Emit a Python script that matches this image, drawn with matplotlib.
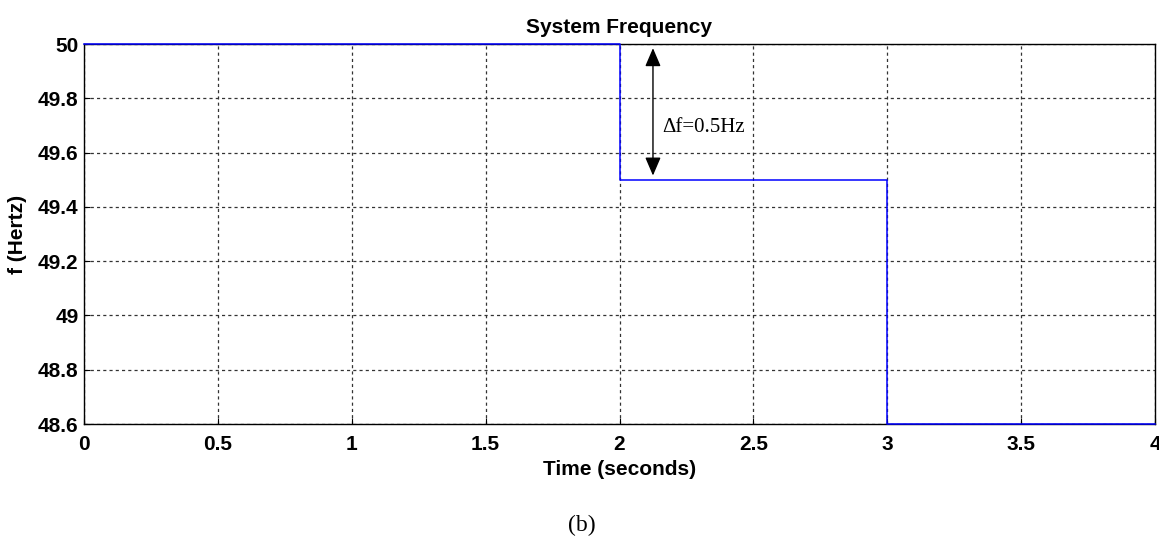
import numpy as np
import matplotlib.pyplot as plt

# data
t = [0, 2, 2, 3, 3, 4]
f = [50, 50, 49.5, 49.5, 48.6, 48.6]
xticks = [0, 0.5, 1, 1.5, 2, 2.5, 3, 3.5, 4]
yticks = [48.6, 48.8, 49, 49.2, 49.4, 49.6, 49.8, 50]
ytick_labels = ['48.6', '48.8', '49', '49.2', '49.4', '49.6', '49.8', '50']
arrow_x = 2.125
f_hi, f_lo = 50, 49.5

plt.rcParams['font.family'] = ['Liberation Sans', 'DejaVu Sans']

fig = plt.figure(figsize=(11.59, 5.39), dpi=100)
ax = fig.add_axes([84/1159, 1-424/539, (1155-84)/1159, (424-44)/539])

ax.plot(t, f, color='#0000ff', lw=1.1, zorder=5, clip_on=False)
ax.set_xlim(0, 4)
ax.set_ylim(48.6, 50)
ax.set_xticks(xticks)
ax.set_xticklabels([('%g' % v) for v in xticks])
ax.set_yticks(yticks)
ax.set_yticklabels(ytick_labels)
ax.tick_params(direction='in', length=4, width=0.8, labelsize=15)
ax.tick_params(axis='x', pad=8)
ax.tick_params(axis='y', pad=4)
for lab in ax.get_xticklabels() + ax.get_yticklabels():
    lab.set_fontweight('bold')
ax.grid(True, color='#333333', linestyle=(0, (2.5, 2.5)), lw=0.9)
for s in ax.spines.values():
    s.set_color('black')
    s.set_linewidth(1.0)

ax.set_title('System Frequency', fontsize=15, fontweight='bold', pad=8)
ax.set_xlabel('Time (seconds)', fontsize=15, fontweight='bold', labelpad=4)
ax.set_ylabel('f (Hertz)', fontsize=15, fontweight='bold', labelpad=8)

# delta f arrow
ax.annotate('', xy=(arrow_x, f_lo), xytext=(arrow_x, f_hi),
            arrowprops=dict(arrowstyle='<|-|>,head_length=0.7,head_width=0.3', color='black', lw=1.0,
                            mutation_scale=16, shrinkA=3, shrinkB=3))
ax.text(2.16, 49.694, '\u0394f=0.5Hz', fontsize=15, family=['Liberation Serif', 'DejaVu Serif'],
        va='center', ha='left')

fig.text(582/1159, 1-525/539, '(b)', fontsize=17, family=['Liberation Serif', 'DejaVu Serif'],
         ha='center', va='center')

fig.savefig('out.png', dpi=100, facecolor='white')
